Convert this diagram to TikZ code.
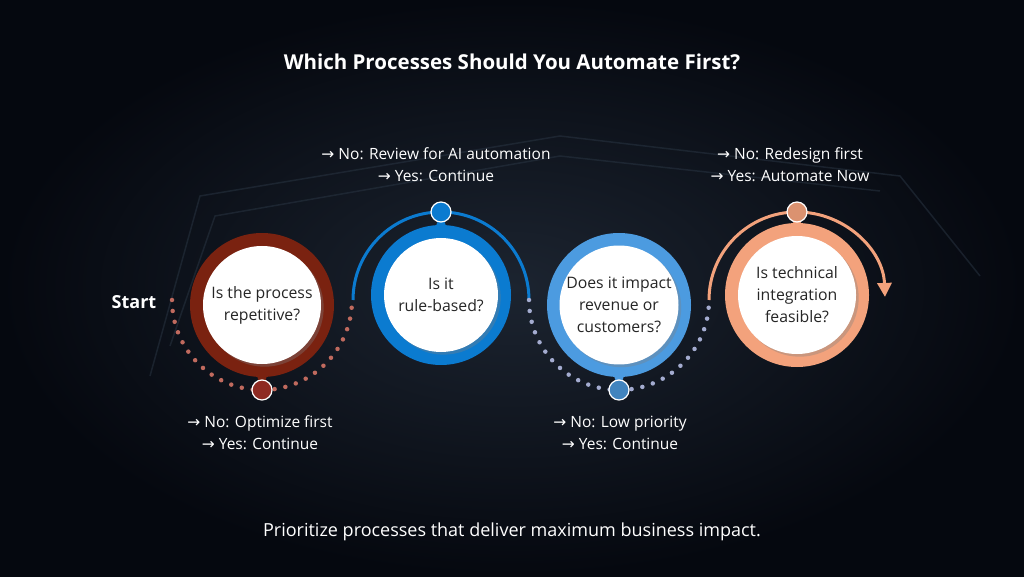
\documentclass[tikz,border=0pt]{standalone}
\usepackage{fontspec}
\setmainfont{Open Sans}
\newfontfamily\dv{DejaVu Sans}
\usetikzlibrary{arrows.meta,shadows}
\definecolor{bgA}{HTML}{05080F}
\definecolor{bgB}{HTML}{1C2430}
\definecolor{cBrown}{HTML}{7A2210}
\definecolor{cBrownDot}{HTML}{8E2A22}
\definecolor{cBlue}{HTML}{0B7BD0}
\definecolor{cLBlue}{HTML}{4C9BE0}
\definecolor{cOrange}{HTML}{F3A27C}
\definecolor{cPink}{HTML}{C06A5E}
\definecolor{cGray}{HTML}{A4ACD0}
\definecolor{hexline}{HTML}{2A3644}
\newcommand{\ar}{{\dv →}}
\begin{document}
\begin{tikzpicture}[x=1pt,y=1pt,
  ring/.style={circle,minimum size=#1,inner sep=0pt},
  inner/.style={circle,fill=white,minimum size=118pt,inner sep=0pt,align=center,font=\fontsize{15.8}{22}\selectfont\color{black!85},drop shadow={opacity=0.35}},
  dot/.style={circle,minimum size=20pt,inner sep=0pt,draw=white,line width=1.2pt},
  lab/.style={text=white,align=center,font=\fontsize{15.5}{22}\selectfont},
  dots/.style={line width=4.5pt,line cap=round,dash pattern=on 0pt off 11pt}]
\useasboundingbox (0,0) rectangle (1024,576);
\shade[inner color=bgB,outer color=bgA] (0,0) rectangle (1024,576);
% faint background tracery
\begin{scope}[draw=hexline,line width=1.5pt,opacity=0.5]
\draw (150,200) -- (200,380) -- (560,440) -- (900,400) -- (980,300);
\draw (170,230) -- (215,360) -- (560,420) -- (880,385);
\end{scope}
% title
\node[text=white,font=\bfseries\fontsize{20.5}{24}\selectfont] (title) at (512,514) {Which Processes Should You Automate First?};
\node[text=white,font=\bfseries\fontsize{18}{20}\selectfont] (start) at (134,274) {Start};
% circle 1
\draw[cPink,dots] (172,276) arc[start angle=180,end angle=360,radius=90];
\fill[cBrown] (262,186) -- (257,200) -- (267,200) -- cycle;
\node[ring=144pt,fill=cBrown] (r1) at (262,271) {};
\node[inner] (c1) at (262,271) {Is the process\\repetitive?};
\node[dot,fill=cBrownDot] (d1) at (262,186) {};
% circle 2
\draw[cBlue,line width=3pt] (353,276) arc[start angle=180,end angle=0,radius=88];
\fill[cBlue] (441,364) -- (436,350) -- (446,350) -- cycle;
\node[ring=140pt,fill=cBlue] (r2) at (441,281) {};
\node[inner,minimum size=114pt] (c2) at (441,281) {Is it\\rule-based?};
\node[dot,fill=cBlue] (d2) at (441,364) {};
% circle 3
\draw[cGray,dots] (529,276) arc[start angle=180,end angle=360,radius=90];
\fill[cLBlue] (619,186) -- (614,200) -- (624,200) -- cycle;
\node[ring=144pt,fill=cLBlue] (r3) at (619,271) {};
\node[inner] (c3) at (619,271) {Does it impact\\revenue or\\customers?};
\node[dot,fill=cLBlue!85!black] (d3) at (619,186) {};
% circle 4
\draw[cOrange,line width=3pt,-{Triangle[length=14pt,width=14pt]}] (709,276) arc[start angle=180,end angle=2,radius=88];
\fill[cOrange] (797,364) -- (792,350) -- (802,350) -- cycle;
\node[ring=144pt,fill=cOrange] (r4) at (797,281) {};
\node[inner] (c4) at (797,281) {Is technical\\integration\\feasible?};
\node[dot,fill=cOrange!90!black] (d4) at (797,364) {};
% labels
\node[lab] (l1) at (260,143) {\ar{} No: Optimize first\\\ar{} Yes: Continue};
\node[lab] (l2) at (436,411) {\ar{} No: Review for AI automation\\\ar{} Yes: Continue};
\node[lab] (l3) at (620,143) {\ar{} No: Low priority\\\ar{} Yes: Continue};
\node[lab] (l4) at (790,411) {\ar{} No: Redesign first\\\ar{} Yes: Automate Now};
\node[text=white,font=\fontsize{18}{20}\selectfont] (foot) at (512,44) {Prioritize processes that deliver maximum business impact.};
\end{tikzpicture}
\end{document}
